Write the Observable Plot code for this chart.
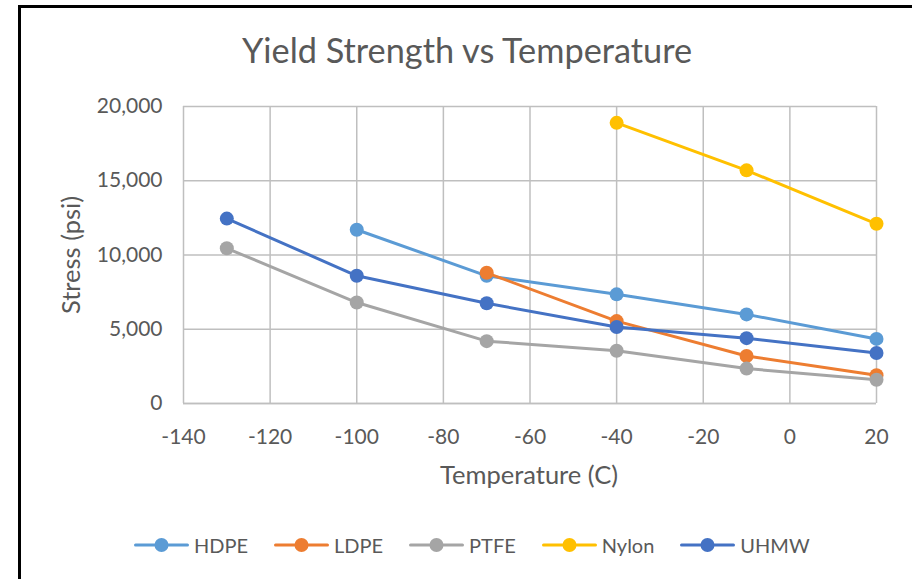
<!DOCTYPE html>
<html>
<head>
<meta charset="utf-8">
<script src="https://cdn.jsdelivr.net/npm/d3@7"></script>
<script src="https://cdn.jsdelivr.net/npm/@observablehq/plot@0.6"></script>
<style>
  html, body { margin: 0; padding: 0; background: #fff; }
  #wrap { position: relative; width: 912px; height: 579px; overflow: hidden; font-family: Lato, "Open Sans", sans-serif; color: #595959; }
  #frame { position: absolute; left: 18px; top: 5px; right: -10px; bottom: -10px; border-left: 3px solid #000; border-top: 3px solid #000; }
  #chart { position: absolute; left: 0; top: 0; }
  .title { position: absolute; left: 0; width: 934px; top: 33px; text-align: center; font-size: 34.3px; line-height: 1; white-space: nowrap; }
  .xlabel { position: absolute; left: 529px; top: 475px; transform: translate(-50%, -50%); font-size: 25.5px; line-height: 1; white-space: nowrap; }
  .ylabel { position: absolute; left: 70.5px; top: 254.5px; transform: translate(-50%, -50%) rotate(-90deg); font-size: 25.5px; line-height: 1; white-space: nowrap; }
  #legend { position: absolute; left: 134px; top: 545px; transform: translateY(-50%); display: flex; align-items: center; font-size: 20px; line-height: 1; white-space: nowrap; }
  .item { display: flex; align-items: center; margin-right: 26px; }
  .item svg { display: block; margin-right: 5px; }
</style>
</head>
<body>
<div id="wrap">
  <div id="frame"></div>
  <div id="chart"></div>
  <div class="title">Yield Strength vs Temperature</div>
  <div class="ylabel">Stress (psi)</div>
  <div class="xlabel">Temperature (C)</div>
  <div id="legend"></div>
</div>
<script>
// ---- data ----
const temperatures = [-130, -100, -70, -40, -10, 20];
const seriesNames = ["HDPE", "LDPE", "PTFE", "Nylon", "UHMW"];
const seriesColors = ["#5B9BD5", "#ED7D31", "#A5A5A5", "#FFC000", "#4472C4"];
const hdpe  = [null, 11700, 8600, 7350, 6000, 4350];
const ldpe  = [null, null, 8800, 5550, 3200, 1900];
const ptfe  = [10450, 6800, 4200, 3550, 2350, 1600];
const nylon = [null, null, null, 18900, 15700, 12100];
const uhmw  = [12450, 8600, 6750, 5150, 4400, 3400];
const xTicks = [-140, -120, -100, -80, -60, -40, -20, 0, 20];
const yTicks = [0, 5000, 10000, 15000, 20000];

const seriesValues = [hdpe, ldpe, ptfe, nylon, uhmw];
const rows = [];
seriesNames.forEach((name, i) => {
  seriesValues[i].forEach((v, j) => {
    if (v != null) rows.push({series: name, temp: temperatures[j], stress: v});
  });
});

const grid = {stroke: "#BFBFBF", strokeOpacity: 1, strokeWidth: 1.5};

const seriesMarks = seriesNames.flatMap(name => {
  const d = rows.filter(r => r.series === name);
  return [
    Plot.line(d, {x: "temp", y: "stress", stroke: "series", strokeWidth: 3, strokeLinejoin: "round", strokeLinecap: "round"}),
    Plot.dot(d, {x: "temp", y: "stress", fill: "series", r: 7})
  ];
});

const chart = Plot.plot({
  width: 912,
  height: 579,
  marginLeft: 183,
  marginRight: 36,
  marginTop: 106,
  marginBottom: 176,
  style: {fontFamily: "Lato, 'Open Sans', sans-serif", fontSize: "21px", color: "#595959", background: "transparent", overflow: "visible"},
  x: {domain: [-140, 20]},
  y: {domain: [0, 20000]},
  color: {domain: seriesNames, range: seriesColors},
  marks: [
    Plot.gridX(xTicks, grid),
    Plot.gridY(yTicks, grid),
    Plot.ruleY([0], grid),
    Plot.axisX(xTicks, {tickSize: 0, tickPadding: 26, label: null, fontSize: 21, fill: "#595959", tickFormat: d => String(d)}),
    Plot.axisY(yTicks, {tickSize: 0, tickPadding: 21, label: null, fontSize: 21, fill: "#595959", tickFormat: d => d.toLocaleString("en-US")}),
    ...seriesMarks
  ]
});
document.getElementById("chart").appendChild(chart);

// ---- legend ----
const legend = document.getElementById("legend");
seriesNames.forEach((name, i) => {
  const item = document.createElement("div");
  item.className = "item";
  const ns = "http://www.w3.org/2000/svg";
  const svg = document.createElementNS(ns, "svg");
  svg.setAttribute("width", 55);
  svg.setAttribute("height", 18);
  const ln = document.createElementNS(ns, "line");
  ln.setAttribute("x1", 1.5); ln.setAttribute("x2", 53.5);
  ln.setAttribute("y1", 9); ln.setAttribute("y2", 9);
  ln.setAttribute("stroke", seriesColors[i]);
  ln.setAttribute("stroke-width", 3);
  ln.setAttribute("stroke-linecap", "round");
  const c = document.createElementNS(ns, "circle");
  c.setAttribute("cx", 27.5); c.setAttribute("cy", 9); c.setAttribute("r", 7);
  c.setAttribute("fill", seriesColors[i]);
  svg.appendChild(ln); svg.appendChild(c);
  const label = document.createElement("span");
  label.textContent = name;
  item.appendChild(svg); item.appendChild(label);
  legend.appendChild(item);
});
</script>
</body>
</html>
